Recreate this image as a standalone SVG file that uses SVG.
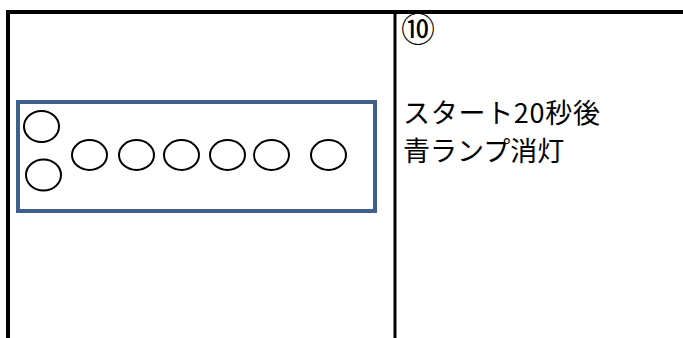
<svg xmlns="http://www.w3.org/2000/svg" width="683" height="338" viewBox="0 0 683 338">
<style>
.frame{stroke:#000;stroke-width:4;fill:none}
.lamp{fill:#fff;stroke:#000;stroke-width:2}
.t{font-family:"Noto Sans CJK JP","Noto Sans",sans-serif;font-size:27px;fill:#000}
</style>
<rect width="683" height="338" fill="#fff"/>
<g id="table">
<path class="frame" d="M8,338 V12 H683"/>
<path class="frame" d="M395,12 V338" style="stroke-width:3"/>
</g>
<g id="panel">
<rect x="18" y="102" width="357" height="109" fill="none" stroke="#3F5F8F" stroke-width="4"/>
</g>
<g id="lamps">
<ellipse class="lamp" cx="41.5" cy="126.5" rx="17.5" ry="15.5"/>
<ellipse class="lamp" cx="43.5" cy="175" rx="17.5" ry="15.5"/>
<ellipse class="lamp" cx="89.5" cy="155" rx="17.5" ry="15"/>
<ellipse class="lamp" cx="136.5" cy="155" rx="17.5" ry="15"/>
<ellipse class="lamp" cx="181.5" cy="155" rx="17.5" ry="15"/>
<ellipse class="lamp" cx="227.5" cy="155" rx="17.5" ry="15"/>
<ellipse class="lamp" cx="271.5" cy="155" rx="17.5" ry="15"/>
<ellipse class="lamp" cx="328.5" cy="155" rx="17.5" ry="15"/>
</g>
<g id="labels">
<text class="t" x="401" y="42" style="font-size:34px">⑩</text>
<text class="t" x="403" y="123" textLength="197" lengthAdjust="spacing">スタート20秒後</text>
<text class="t" x="403" y="161">青ランプ消灯</text>
</g>
<g id="connectors"/>
</svg>
